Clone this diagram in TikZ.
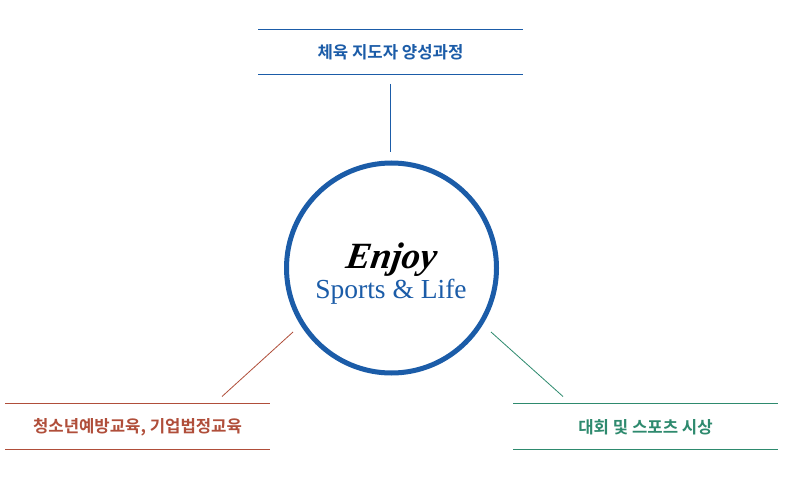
\documentclass[tikz,border=0pt]{standalone}
\usepackage{fontspec}
\newfontfamily\kr{Noto Sans CJK KR}[BoldFont={Noto Sans CJK KR Bold}]
\newfontfamily\serifen{Liberation Serif}
\definecolor{cblue}{HTML}{1B5CA8}
\definecolor{cred}{HTML}{B04E3A}
\definecolor{cgreen}{HTML}{2E8A6E}
\begin{document}
\begin{tikzpicture}[x=1pt,y=-1pt,
  rule/.style={line width=1pt},
  label/.style={font=\kr\bfseries\fontsize{16.7}{19}\selectfont, inner sep=0pt},
  link/.style={line width=0.8pt}]
\fill[white] (0,0) rectangle (786,481);
\useasboundingbox (0,0) rectangle (786,481);
% top box
\draw[rule, cblue] (258,29.5) -- (523,29.5);
\draw[rule, cblue] (258,74.5) -- (523,74.5);
\node[label, text=cblue] (top) at (390.5,52) {체육 지도자 양성과정};
% left box
\draw[rule, cred] (5,403.5) -- (270,403.5);
\draw[rule, cred] (5,449.5) -- (270,449.5);
\node[label, text=cred] (left) at (137.5,427) {청소년예방교육, 기업법정교육};
% right box
\draw[rule, cgreen] (513,403.5) -- (778,403.5);
\draw[rule, cgreen] (513,449.5) -- (778,449.5);
\node[label, text=cgreen] (right) at (645.5,427) {대회 및 스포츠 시상};
% circle
\node[circle, draw=cblue, line width=5pt, minimum size=210pt, inner sep=0pt] (c) at (391.5,268) {};
\node[font=\serifen\bfseries\itshape\fontsize{37}{40}\selectfont, inner sep=0pt, anchor=base, xslant=0.15] (enjoy) at (390,268) {Enjoy};
\node[font=\serifen\fontsize{27.5}{30}\selectfont, text=cblue, inner sep=0pt, anchor=base] (sports) at (391,298) {Sports \& Life};
% connectors
\coordinate (tA) at (390.5,84);
\coordinate (tB) at (390.5,152);
\draw[link, cblue] (tA) -- (tB);
\coordinate (lA) at (293,332);
\coordinate (lB) at (222,396.5);
\draw[link, cred] (lA) -- (lB);
\coordinate (rA) at (491,332);
\coordinate (rB) at (563,396.5);
\draw[link, cgreen] (rA) -- (rB);
\end{tikzpicture}
\end{document}
